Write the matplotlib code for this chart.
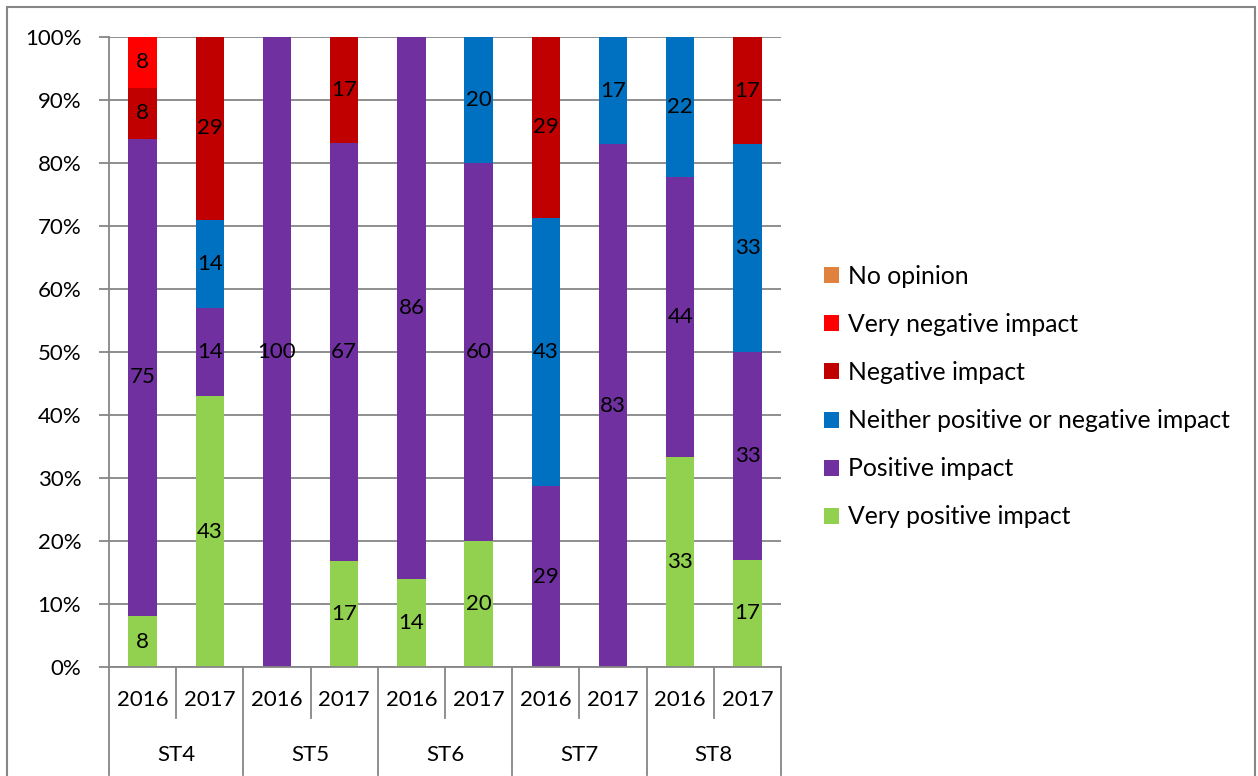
import numpy as np
import matplotlib.pyplot as plt
from matplotlib.patches import Rectangle
from matplotlib.transforms import blended_transform_factory

plt.rcParams['font.family'] = ['Lato', 'DejaVu Sans']

grupos = ["ST4", "ST5", "ST6", "ST7", "ST8"]
anos = ["2016", "2017"] * 5

# valores por categoria (ordem: ST4 2016, ST4 2017, ST5 2016, ...)
muito_positivo = [8, 43, 0, 17, 14, 20, 0, 0, 33, 17]
positivo = [75, 14, 100, 67, 86, 60, 29, 83, 44, 33]
nem_um_nem_outro = [0, 14, 0, 0, 0, 20, 43, 17, 22, 33]
negativo = [8, 29, 0, 17, 0, 0, 29, 0, 0, 17]
muito_negativo = [8, 0, 0, 0, 0, 0, 0, 0, 0, 0]
sem_opiniao = [0, 0, 0, 0, 0, 0, 0, 0, 0, 0]

series = [
    ("Very positive impact", muito_positivo, "#92D050"),
    ("Positive impact", positivo, "#7030A0"),
    ("Neither positive or negative impact", nem_um_nem_outro, "#0070C0"),
    ("Negative impact", negativo, "#C00000"),
    ("Very negative impact", muito_negativo, "#FF0000"),
    ("No opinion", sem_opiniao, "#E0823D"),
]

FS = 16
W, H = 1258, 776
fig = plt.figure(figsize=(W / 100, H / 100), dpi=100)
ax = fig.add_axes([109 / W, (H - 667) / H, (781 - 109) / W, 630 / H])

x = np.arange(len(anos))
total = np.sum([np.array(s[1], dtype=float) for s in series], axis=0)
base = np.zeros(len(anos))
handles = []
for nome, vals, cor in series:
    v = np.array(vals, dtype=float) / total
    b = ax.bar(x, v, 0.42, bottom=base, color=cor, label=nome, zorder=3)
    handles.append(b)
    for xi, vi, bi, rot in zip(x, v, base, vals):
        if rot > 0:
            ax.text(xi, bi + vi / 2, str(rot), ha="center", va="center",
                    fontsize=FS, color="black", zorder=4)
    base += v

cinza = "#868686"
ax.set_xlim(-0.5, len(anos) - 0.5)
ax.set_ylim(0, 1)
ax.set_yticks(np.arange(0, 1.01, 0.1))
ax.set_yticklabels([f"{int(round(t * 100))}%" for t in np.arange(0, 1.01, 0.1)])
ax.yaxis.grid(True, color=cinza, lw=1.3, zorder=0)
ax.tick_params(axis="y", length=7, width=1.3, color=cinza, labelsize=FS, pad=13)
ax.set_xticks([])
for lado in ["top", "right"]:
    ax.spines[lado].set_visible(False)
for lado in ["left", "bottom"]:
    ax.spines[lado].set_color(cinza)
    ax.spines[lado].set_linewidth(1.3)
    ax.spines[lado].set_zorder(5)

# eixo de categorias em dois niveis
trans = blended_transform_factory(ax.transData, ax.transAxes)
y_ano = -51 / 630
y_grupo = -108 / 630
for i, a in enumerate(anos):
    ax.text(i, -33 / 630, a, transform=trans, ha="center", va="center", fontsize=FS)
for i in range(len(anos) + 1):
    limite = i - 0.5
    fundo = y_grupo if i % 2 == 0 else y_ano
    ax.plot([limite, limite], [0, fundo], transform=trans, color=cinza, lw=1.3,
            clip_on=False)
for j, g in enumerate(grupos):
    ax.text(2 * j + 0.5, -88 / 630, g, transform=trans, ha="center", va="center",
            fontsize=FS)

# legenda
leg = fig.legend(handles[::-1], [s[0] for s in series][::-1],
                 loc="upper left", bbox_to_anchor=(824 / W, 1 - 265 / H),
                 frameon=False, fontsize=17.8, handlelength=0.62, handleheight=0.62,
                 handletextpad=0.35, labelspacing=1.015, borderaxespad=0,
                 borderpad=0)

# borda da figura
fig.patches.append(Rectangle((7 / W, -0.01), (1255 - 7) / W, 1 - 7 / H + 0.01,
                             transform=fig.transFigure, fill=False,
                             edgecolor=cinza, lw=1.5))

fig.savefig("out.png", dpi=100)
